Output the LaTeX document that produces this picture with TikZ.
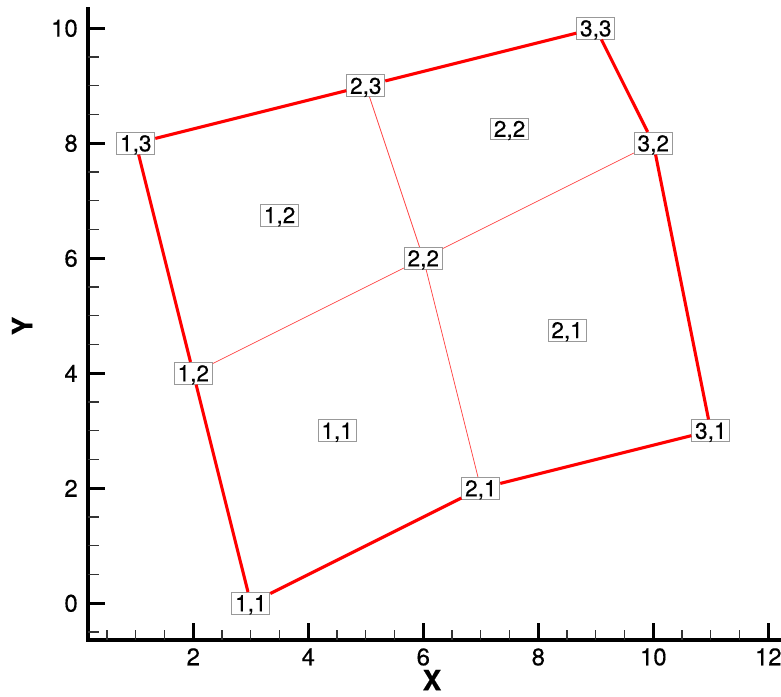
\documentclass[tikz,border=0pt]{standalone}
\usepackage{fontspec}
\setmainfont{TeX Gyre Heros}[FakeBold=0.35]
\begin{document}
\begin{tikzpicture}[x=0.75pt,y=-0.75pt,
  lbl/.style={draw=black!40, line width=0.6pt, fill=white, font=\fontsize{17}{20}\selectfont,
    inner xsep=2.5pt, inner ysep=0.6pt, text height=13.6pt, text depth=1.6pt},
  bnd/.style={draw=red, line width=2.3pt},
  inr/.style={draw=red!75, line width=0.55pt},
  ticklab/.style={font=\fontsize{18}{21}\selectfont, inner sep=0pt},
  axlab/.style={font=\fontsize{21}{24}\selectfont\bfseries, inner sep=0pt},
  majtick/.style={line width=2.2pt},
  mintick/.style={line width=0.9pt, black!80},
]
\useasboundingbox (0,0) rectangle (781,696);
% axes
\draw[line width=2.6pt] (88,7) -- (88,640) -- (781,640);
\node[axlab] (xlab) at (432,680) {X};
\node[axlab, rotate=90] (ylab) at (22,326) {Y};
\begin{scope}[shift={(78.3,603.3)}, x=43.125pt, y=43.125pt]
  % y ticks
  \foreach \v in {0,2,...,10} {
    \draw[majtick] (0.169,\v) -- ++(0.296,0);
    \node[ticklab, anchor=east] at (-0.005,\v) {\v};
  }
  \foreach \v in {-0.5,0.5,1,1.5,2.5,3,3.5,4.5,5,5.5,6.5,7,7.5,8.5,9,9.5}
    \draw[mintick] (0.169,\v) -- ++(0.19,0);
  % x ticks
  \foreach \v in {2,4,...,12} {
    \draw[majtick] (\v,-0.638) -- ++(0,0.296);
    \node[ticklab, anchor=north] at (\v,-0.777) {\v};
  }
  \foreach \v in {0.5,1,1.5,2.5,3,3.5,4.5,5,5.5,6.5,7,7.5,8.5,9,9.5,10.5,11,11.5}
    \draw[mintick] (\v,-0.638) -- ++(0,0.17);
  % grid nodes
  \node[lbl] (n11) at (3,0) {1,1};
  \node[lbl] (n21) at (7,2) {2,1};
  \node[lbl] (n31) at (11,3) {3,1};
  \node[lbl] (n12) at (2,4) {1,2};
  \node[lbl] (n22) at (6,6) {2,2};
  \node[lbl] (n32) at (10,8) {3,2};
  \node[lbl] (n13) at (1,8) {1,3};
  \node[lbl] (n23) at (5,9) {2,3};
  \node[lbl] (n33) at (9,10) {3,3};
  % cell labels
  \node[lbl] (c11) at (4.5,3) {1,1};
  \node[lbl] (c21) at (8.5,4.75) {2,1};
  \node[lbl] (c12) at (3.5,6.75) {1,2};
  \node[lbl] (c22) at (7.5,8.25) {2,2};
  % boundary
  \draw[bnd] (n11) -- (n21);
  \draw[bnd] (n21) -- (n31);
  \draw[bnd] (n31) -- (n32);
  \draw[bnd] (n32) -- (n33);
  \draw[bnd] (n33) -- (n23);
  \draw[bnd] (n23) -- (n13);
  \draw[bnd] (n13) -- (n12);
  \draw[bnd] (n12) -- (n11);
  % interior
  \draw[inr] (n12) -- (n22);
  \draw[inr] (n22) -- (n32);
  \draw[inr] (n21) -- (n22);
  \draw[inr] (n22) -- (n23);
\end{scope}
\end{tikzpicture}
\end{document}
